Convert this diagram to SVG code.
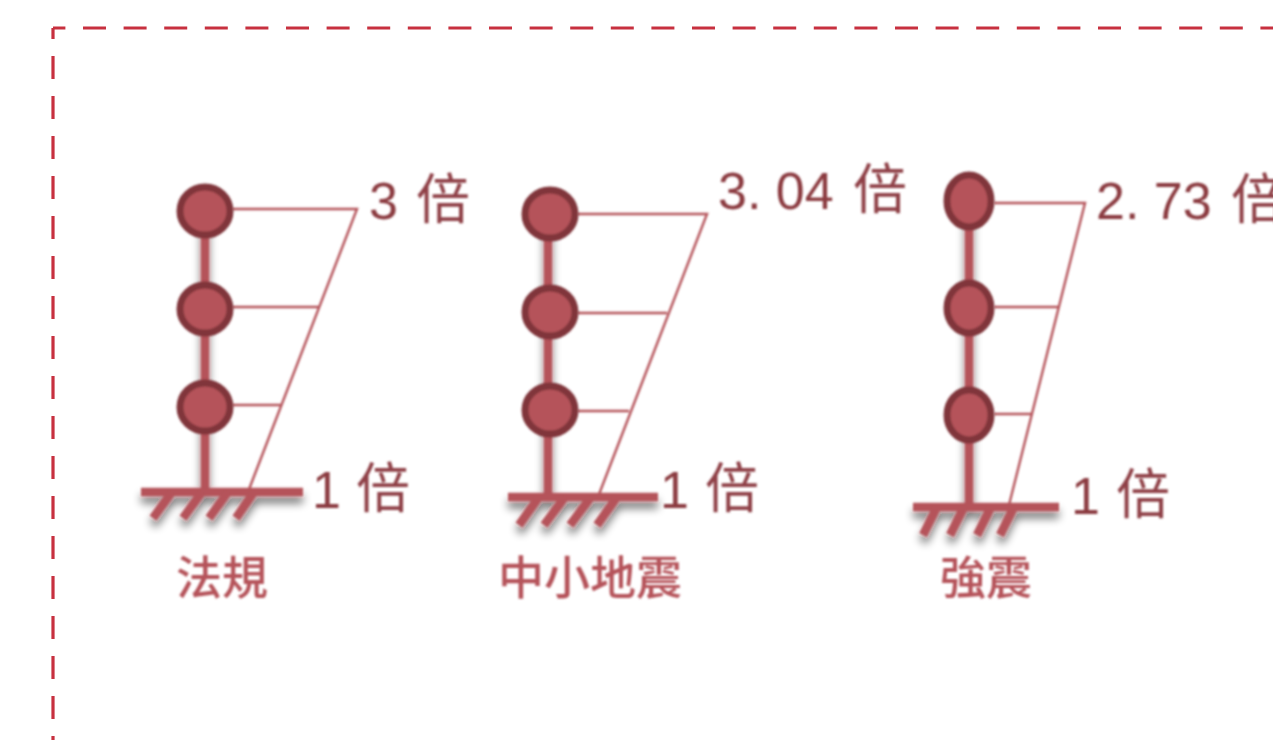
<svg xmlns="http://www.w3.org/2000/svg" width="1273" height="740" viewBox="0 0 1273 740">
<defs>
<filter id="soft" x="-5%" y="-5%" width="110%" height="110%"><feGaussianBlur stdDeviation="0.8"/></filter>
<filter id="shadow" x="-20%" y="-20%" width="140%" height="150%">
<feGaussianBlur in="SourceAlpha" stdDeviation="4"/><feOffset dx="0" dy="7"/>
<feComponentTransfer><feFuncA type="linear" slope="0.55"/></feComponentTransfer>
<feMerge><feMergeNode/><feMergeNode in="SourceGraphic"/></feMerge>
</filter>
</defs>
<style>
.frame{fill:none;stroke:#c7303f;stroke-width:3.2}
.fv{stroke-dasharray:23 17;stroke-dashoffset:12}
.fh{stroke-dasharray:23 17.6;stroke-dashoffset:10.6}
.col{stroke:#b5535a;stroke-width:8.5;fill:none}
.gnd{stroke:#b5535a;stroke-width:8.5;fill:none}
.hatch{stroke:#b5535a;stroke-width:8.5;fill:none}
.load{stroke:#b5535a;stroke-width:2.4;fill:none}
.joint{fill:#b5535a;stroke:#80363b;stroke-width:7}
.val{font-family:"Noto Sans CJK TC","Noto Sans",sans-serif;font-size:54px;font-weight:400;fill:#8f4046}
.num{font-family:"Liberation Sans",Arial,sans-serif;font-size:52px;fill:#8b3a40}
.name{font-family:"Noto Sans CJK TC","Noto Sans",sans-serif;font-size:46px;font-weight:500;fill:#b5535a}
</style>
<rect fill="#fff" width="1273" height="740"/>
<g id="border"><path class="frame fv" d="M53 28V740"/><path class="frame fh" d="M53 28H1273"/></g>
<g id="connectors" filter="url(#soft)">
<g filter="url(#shadow)">
<path class="col" d="M205 211V492M548 214V497M969 201V507"/>
<path class="gnd" d="M141 492H303M508 497H658M913 507H1059"/>
<path class="hatch" d="M172 492L153 518M202 492L183 518M228 492L209 518M254 492L236 518M539 497L519 525M565 497L544 525M591 497L570 525M617 497L597 525M937 507L923 535M964 507L950 535M991 507L977 535M1014 507L1000 535"/>
</g>
<path class="load" d="M232 209H357L248 492M232 307H320M232 405H282"/>
<path class="load" d="M577 214H707L598 497M577 313H667M577 411H629"/>
<path class="load" d="M994 203H1085L1009 505M994 307H1058M994 414H1031"/>
</g>
<g id="frame1" filter="url(#soft)">
<ellipse class="joint" cx="205" cy="211" rx="25" ry="24"/><ellipse class="joint" cx="205" cy="309" rx="25" ry="24"/><ellipse class="joint" cx="205" cy="407" rx="25" ry="24"/>
<text class="num" x="369" y="219">3</text><text class="val" x="416" y="219">倍</text>
<text class="num" x="312" y="508">1</text><text class="val" x="356" y="508">倍</text>
<text class="name" x="176" y="594">法規</text>
</g>
<g id="frame2" filter="url(#soft)">
<ellipse class="joint" cx="550" cy="214" rx="25" ry="24"/><ellipse class="joint" cx="550" cy="312" rx="25" ry="24"/><ellipse class="joint" cx="550" cy="410" rx="25" ry="24"/>
<text class="num" x="718" y="209" xml:space="preserve">3. 04</text><text class="val" x="853" y="209">倍</text>
<text class="num" x="660" y="508">1</text><text class="val" x="705" y="508">倍</text>
<text class="name" x="498" y="594">中小地震</text>
</g>
<g id="frame3" filter="url(#soft)">
<ellipse class="joint" cx="969" cy="201" rx="22" ry="26"/><ellipse class="joint" cx="969" cy="308" rx="22" ry="25"/><ellipse class="joint" cx="969" cy="415" rx="22" ry="25"/>
<text class="num" x="1096" y="219" xml:space="preserve">2. 73</text><text class="val" x="1231" y="219">倍</text>
<text class="num" x="1071" y="514">1</text><text class="val" x="1116" y="514">倍</text>
<text class="name" x="940" y="594">強震</text>
</g>
</svg>
